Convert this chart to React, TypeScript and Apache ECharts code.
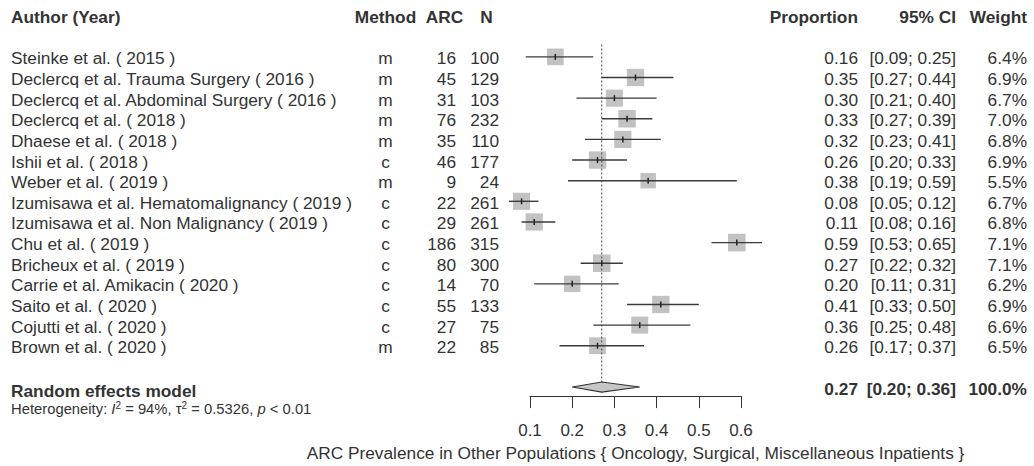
import React, { useEffect, useRef } from "react";
import * as echarts from "echarts";

const studies = [
  "Steinke et al. ( 2015 )",
  "Declercq et al. Trauma Surgery ( 2016 )",
  "Declercq et al. Abdominal Surgery ( 2016 )",
  "Declercq et al. ( 2018 )",
  "Dhaese et al. ( 2018 )",
  "Ishii et al. ( 2018 )",
  "Weber et al. ( 2019 )",
  "Izumisawa et al. Hematomalignancy ( 2019 )",
  "Izumisawa et al. Non Malignancy ( 2019 )",
  "Chu et al. ( 2019 )",
  "Bricheux et al. ( 2019 )",
  "Carrie et al. Amikacin ( 2020 )",
  "Saito et al. ( 2020 )",
  "Cojutti et al. ( 2020 )",
  "Brown et al. ( 2020 )",
];
const methods = ["m", "m", "m", "m", "m", "c", "m", "c", "c", "c", "c", "c", "c", "c", "m"];
const arcEvents = [16, 45, 31, 76, 35, 46, 9, 22, 29, 186, 80, 14, 55, 27, 22];
const totals = [100, 129, 103, 232, 110, 177, 24, 261, 261, 315, 300, 70, 133, 75, 85];
const proportions = [0.16, 0.35, 0.3, 0.33, 0.32, 0.26, 0.38, 0.08, 0.11, 0.59, 0.27, 0.2, 0.41, 0.36, 0.26];
const ciLower = [0.09, 0.27, 0.21, 0.27, 0.23, 0.2, 0.19, 0.05, 0.08, 0.53, 0.22, 0.11, 0.33, 0.25, 0.17];
const ciUpper = [0.25, 0.44, 0.4, 0.39, 0.41, 0.33, 0.59, 0.12, 0.16, 0.65, 0.32, 0.31, 0.5, 0.48, 0.37];
const weights = [6.4, 6.9, 6.7, 7.0, 6.8, 6.9, 5.5, 6.7, 6.8, 7.1, 7.1, 6.2, 6.9, 6.6, 6.5];

const pooled = 0.27;
const pooledLower = 0.2;
const pooledUpper = 0.36;
const pooledWeight = 100.0;
const summaryLabel = "Random effects model";
const headers = ["Author (Year)", "Method", "ARC", "N", "Proportion", "95% CI", "Weight"];
const tickValues = [0.1, 0.2, 0.3, 0.4, 0.5, 0.6];
const axisTitle = "ARC Prevalence in Other Populations { Oncology, Surgical, Miscellaneous Inpatients }";

const FONT = '"Liberation Sans", Arial, sans-serif';
const TEXT = "#333333";
const FS = 17.3;
const DY = 1.5;

// column x positions (pixels)
const COL = { author: 11, method: 385.5, arc: 456, n: 499, prop: 858, ci: 956, weight: 1027 };

function txt(x: number, y: number, text: string, align: string, bold = false, size = FS) {
  return {
    type: "text",
    x,
    y: y + DY,
    style: {
      text,
      fill: TEXT,
      fontSize: size,
      fontFamily: FONT,
      fontWeight: bold ? "bold" : "normal",
      align,
      verticalAlign: "middle",
    },
  };
}

export default function App() {
  const ref = useRef<HTMLDivElement>(null);
  useEffect(() => {
    if (!ref.current) return;
    const chart = echarts.init(ref.current, undefined, { renderer: "svg" });
    const studyRows = studies.map((_, i) => i);
    const summaryRow = studies.length + 1;
    const option: any = {
      animation: false,
      backgroundColor: "#ffffff",
      grid: { left: 530, width: 211, top: 15.6, bottom: 66, containLabel: false },
      xAxis: {
        type: "value",
        position: "bottom",
        min: tickValues[0],
        max: tickValues[tickValues.length - 1],
        interval: 0.1,
        splitLine: { show: false },
        axisLine: { show: true, onZero: false, lineStyle: { color: "#333", width: 1 } },
        axisTick: { show: true, length: 12, lineStyle: { color: "#333", width: 1 } },
        axisLabel: {
          margin: 26,
          fontSize: 17,
          fontFamily: FONT,
          color: TEXT,
          formatter: (v: number) => v.toFixed(1),
        },
        name: axisTitle,
        nameLocation: "middle",
        nameGap: 47,
        nameTextStyle: { fontSize: 17.3, fontFamily: FONT, color: TEXT },
      },
      yAxis: {
        type: "value",
        inverse: true,
        min: -2,
        max: 16.44,
        show: false,
      },
      series: [
        {
          type: "custom",
          name: "headers",
          silent: true,
          data: [[tickValues[0], -2]],
          renderItem: (params: any, api: any) => {
            const y = api.coord([api.value(0), api.value(1)])[1];
            return {
              type: "group",
              children: [
                txt(COL.author, y, headers[0], "left", true),
                txt(385.5, y, headers[1], "center", true),
                txt(444.5, y, headers[2], "center", true),
                txt(486.5, y, headers[3], "center", true),
                txt(COL.prop, y, headers[4], "right", true),
                txt(COL.ci, y, headers[5], "right", true),
                txt(COL.weight, y, headers[6], "right", true),
              ],
            };
          },
        },
        {
          type: "custom",
          name: "table",
          silent: true,
          data: studyRows.map((i) => [tickValues[0], i]),
          renderItem: (params: any, api: any) => {
            const i = params.dataIndex;
            const y = api.coord([api.value(0), api.value(1)])[1];
            return {
              type: "group",
              children: [
                txt(COL.author, y, studies[i], "left"),
                txt(COL.method, y, methods[i], "center"),
                txt(COL.arc, y, String(arcEvents[i]), "right"),
                txt(COL.n, y, String(totals[i]), "right"),
                txt(COL.prop, y, proportions[i].toFixed(2), "right"),
                txt(COL.ci, y, `[${ciLower[i].toFixed(2)}; ${ciUpper[i].toFixed(2)}]`, "right"),
                txt(COL.weight, y, `${weights[i].toFixed(1)}%`, "right"),
              ],
            };
          },
        },
        {
          type: "custom",
          name: "forest",
          silent: true,
          data: studyRows.map((i) => [proportions[i], i, ciLower[i], ciUpper[i], weights[i]]),
          encode: { x: 0, y: 1 },
          renderItem: (params: any, api: any) => {
            const c = api.coord([api.value(0), api.value(1)]);
            const lo = api.coord([api.value(2), api.value(1)]);
            const hi = api.coord([api.value(3), api.value(1)]);
            const s = 6.6 * Math.sqrt(api.value(4));
            return {
              type: "group",
              children: [
                {
                  type: "rect",
                  shape: { x: c[0] - s / 2, y: c[1] - s / 2, width: s, height: s },
                  style: { fill: "#c2c2c2" },
                },
                {
                  type: "line",
                  shape: { x1: lo[0], y1: c[1], x2: hi[0], y2: c[1] },
                  style: { stroke: "#3a3a3a", lineWidth: 1.4 },
                },
                {
                  type: "line",
                  shape: { x1: c[0], y1: c[1] - 3, x2: c[0], y2: c[1] + 3 },
                  style: { stroke: "#222", lineWidth: 1.5 },
                },
              ],
            };
          },
        },
        {
          type: "custom",
          name: "summary",
          silent: true,
          data: [[pooled, summaryRow, pooledLower, pooledUpper]],
          encode: { x: 0, y: 1 },
          renderItem: (params: any, api: any) => {
            const c = api.coord([api.value(0), api.value(1)]);
            const lo = api.coord([api.value(2), api.value(1)]);
            const hi = api.coord([api.value(3), api.value(1)]);
            const top = api.coord([api.value(0), -0.6]);
            const bottom = api.coord([api.value(0), summaryRow - 0.3]);
            const het = api.coord([api.value(0), summaryRow + 1])[1];
            const h = 5;
            return {
              type: "group",
              children: [
                {
                  type: "line",
                  shape: { x1: top[0], y1: top[1], x2: bottom[0], y2: bottom[1] + 12 },
                  style: { stroke: "#444", lineWidth: 1, lineDash: [2, 2] },
                },
                {
                  type: "polygon",
                  shape: { points: [[lo[0], c[1]], [c[0], c[1] - h], [hi[0], c[1]], [c[0], c[1] + h]] },
                  style: { fill: "#c6c6c6", stroke: "#333", lineWidth: 1.2 },
                },
                txt(COL.author, c[1] + 2, summaryLabel, "left", true),
                txt(COL.prop, c[1], pooled.toFixed(2), "right", true),
                txt(COL.ci, c[1], `[${pooledLower.toFixed(2)}; ${pooledUpper.toFixed(2)}]`, "right", true),
                txt(COL.weight, c[1], `${pooledWeight.toFixed(1)}%`, "right", true),
                {
                  type: "text",
                  x: COL.author,
                  y: het + DY,
                  style: {
                    text: "{n|Heterogeneity: }{i|I}{s|2}{n| = 94%, τ}{s|2}{n| = 0.5326, }{i|p}{n| < 0.01}",
                    fill: TEXT,
                    fontSize: 14.8,
                    fontFamily: FONT,
                    align: "left",
                    verticalAlign: "middle",
                    rich: {
                      n: { fontSize: 14.8, fontFamily: FONT, fill: TEXT, lineHeight: 17 },
                      i: { fontSize: 14.8, fontFamily: FONT, fill: TEXT, fontStyle: "italic", lineHeight: 17 },
                      s: { fontSize: 10, fontFamily: FONT, fill: TEXT, verticalAlign: "top", lineHeight: 10 },
                    },
                  },
                },
              ],
            };
          },
        },
      ],
    };
    chart.setOption(option);
    return () => chart.dispose();
  }, []);
  return (
    <div
      ref={ref}
      style={{ position: "absolute", left: 0, top: 0, width: 1034, height: 466, background: "#fff" }}
    />
  );
}
